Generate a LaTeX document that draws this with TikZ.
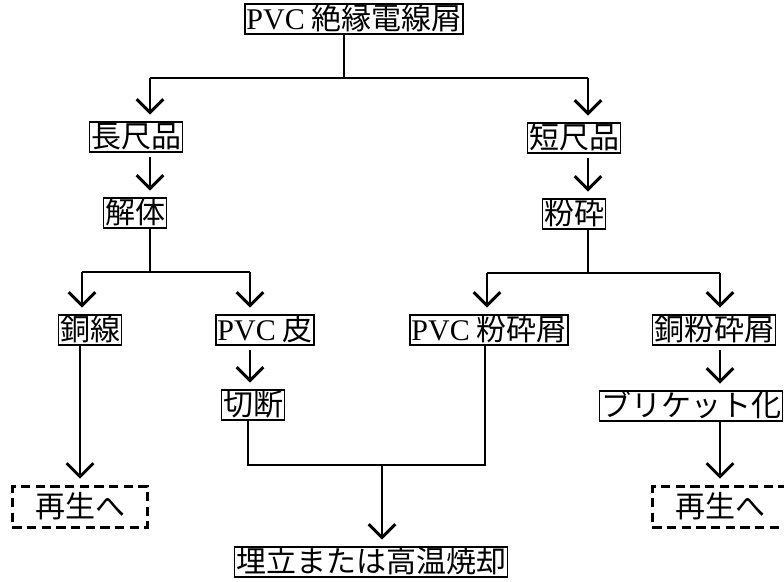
\documentclass[tikz,border=0pt]{standalone}
\usepackage{fontspec}
\newfontfamily\jpfont{Noto Sans CJK JP}
\newfontfamily\latfont{Liberation Serif}
\usetikzlibrary{arrows.meta}

\begin{document}
\begin{tikzpicture}[
    x=0.75pt, y=-0.75pt,
    >={Straight Barb[length=10pt,width=20pt]},
    box/.style={draw,line width=1.2pt,inner xsep=1pt,inner ysep=1pt,
        text height=18pt,text depth=2.5pt,
        font=\jpfont\fontsize{22.5}{24}\selectfont},
    dbox/.style={box,line width=2pt,dash pattern=on 7pt off 4pt,
        inner xsep=17pt,inner ysep=5pt},
    flow/.style={line width=2.2pt},
    arr/.style={flow,->,shorten >=5pt},
]
\clip (0,0) rectangle (784,581);

% === Boxes ===
\node[box] (src)   at (354,19)  {{\latfont PVC} 絶縁電線屑};
\node[box] (long)  at (136,137) {長尺品};
\node[box] (short) at (574,138) {短尺品};
\node[box] (dis)   at (135,213) {解体};
\node[box] (crush) at (574,214) {粉砕};
\node[box] (cu)    at (90,330)  {銅線};
\node[box] (skin)  at (265,330) {{\latfont PVC} 皮};
\node[box] (pvcd)  at (489,330) {{\latfont PVC} 粉砕屑};
\node[box] (cud)   at (714,330) {銅粉砕屑};
\node[box] (cut)   at (253,405) {切断};
\node[box] (briq)  at (691,406) {ブリケット化};
\node[dbox] (recL) at (80,507)  {再生へ};
\node[dbox] (recR) at (720,507) {再生へ};
\node[box] (land)  at (371,562) {埋立または高温焼却};

% === Top split ===
\coordinate (a)  at (344,78);
\coordinate (aL) at (150,78);
\coordinate (aR) at (588,78);
\draw[flow] (src.south -| a) -- (a);
\draw[flow] (aL) -- (aR);
\draw[arr] (aL) -- (aL |- long.north);
\draw[arr] (aR) -- (aR |- short.north);
\draw[arr,shorten <=3pt] (long.south -| aL) -- (dis.north -| aL);
\draw[arr,shorten <=3pt] (short.south -| aR) -- (crush.north -| aR);

% === Left split ===
\coordinate (b)  at (150,272);
\coordinate (bL) at (82,272);
\coordinate (bR) at (250,272);
\draw[flow] (dis.south -| b) -- (b);
\draw[flow] (bL) -- (bR);
\draw[arr] (bL) -- (bL |- cu.north);
\draw[arr] (bR) -- (bR |- skin.north);

% === Right split ===
\coordinate (c)  at (588,273);
\coordinate (cL) at (487,273);
\coordinate (cR) at (720,273);
\draw[flow] (crush.south -| c) -- (c);
\draw[flow] (cL) -- (cR);
\draw[arr] (cL) -- (cL |- pvcd.north);
\draw[arr] (cR) -- (cR |- cud.north);

% === Lower part ===
\draw[arr] (cu.south -| recL.north) -- (recL.north);
\draw[arr,shorten <=3pt] (skin.south -| bR) -- (cut.north -| bR);
\draw[arr,shorten <=3pt] (cud.south -| cR) -- (briq.north -| cR);
\draw[arr] (briq.south -| recR.north) -- (recR.north);

\coordinate (e1) at (248,465);
\coordinate (e2) at (485,465);
\coordinate (e0) at (382,465);
\draw[flow] (cut.south -| e1) -- (e1) -- (e2) -- (pvcd.south -| e2);
\draw[arr] (e0) -- (e0 |- land.north);
\end{tikzpicture}
\end{document}
